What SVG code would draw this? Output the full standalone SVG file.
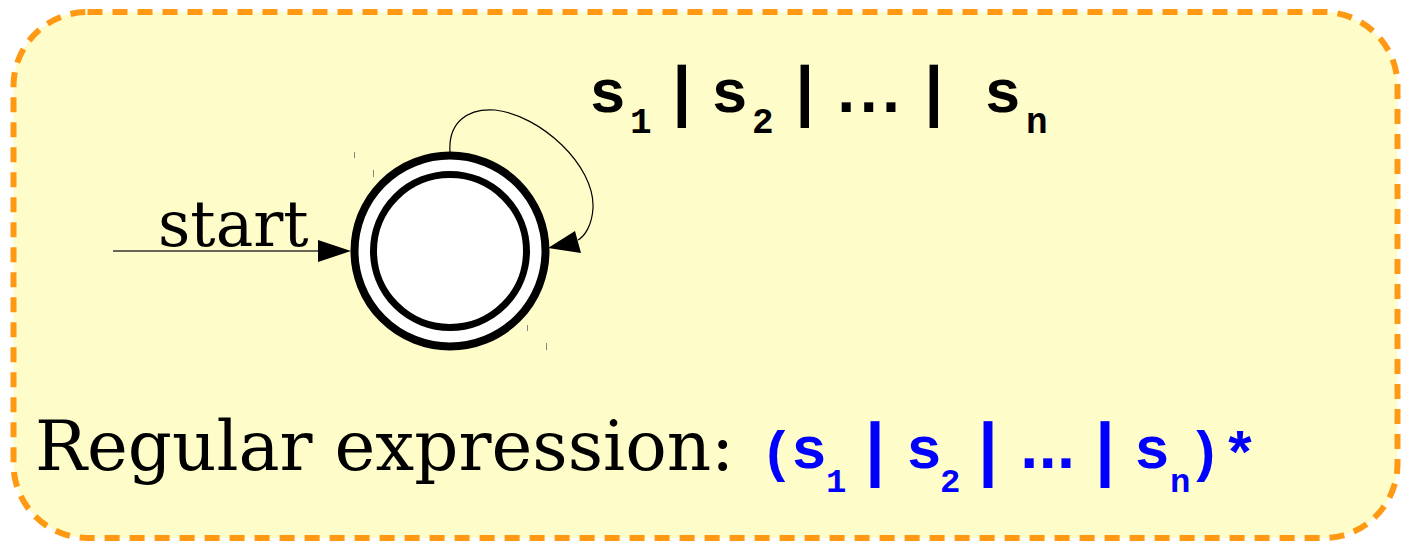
<svg xmlns="http://www.w3.org/2000/svg" width="1405" height="542" viewBox="0 0 1405 542">
<style>
.serif{font-family:"DejaVu Serif",serif;fill:#000}
.mono{font-family:"Liberation Mono","Courier New",monospace;font-weight:bold}
.blk{fill:#000}
.blu{fill:#0000ff}
.tick{stroke:#888;stroke-width:1}
</style>
<rect x="13.5" y="12" width="1384" height="526" rx="74" ry="74" fill="#fefcc8" stroke="#ff9914" stroke-width="6" stroke-dasharray="15 10"/>
<g id="connectors">
<line x1="113" y1="251" x2="320" y2="251" stroke="#333" stroke-width="1.3"/>
<polygon points="351,251 318,240 318,262" fill="#000"/>
<path d="M450,152 C448,122 468,108 495,110 C540,115 595,165 593,208 C592,225 585,236 578,240" fill="none" stroke="#000" stroke-width="1.2"/>
<polygon points="548,248 575,231 581,253" fill="#000"/>
</g>
<g id="state">
<circle cx="450" cy="251" r="95.5" fill="#fff" stroke="#000" stroke-width="8"/>
<circle cx="450" cy="251" r="76.5" fill="#fff" stroke="#000" stroke-width="7"/>
<line class="tick" x1="354.5" y1="152" x2="354.5" y2="158"/>
<line class="tick" x1="373.5" y1="170" x2="373.5" y2="177"/>
<line class="tick" x1="527.5" y1="325" x2="527.5" y2="331"/>
<line class="tick" x1="546.5" y1="343" x2="546.5" y2="350"/>
</g>
<g id="start-label">
<text class="serif" x="158" y="246" font-size="63">start</text>
</g>
<g id="loop-label" class="mono blk">
<text x="589" y="112" font-size="62">s</text>
<text x="630" y="133" font-size="36">1</text>
<text x="662" y="113" font-size="66">|</text>
<text x="711" y="112" font-size="62">s</text>
<text x="752" y="133" font-size="36">2</text>
<text x="785" y="113" font-size="66">|</text>
<text x="827" y="112" font-size="64" letter-spacing="-16">...</text>
<text x="914" y="113" font-size="66">|</text>
<text x="984" y="112" font-size="62">s</text>
<text x="1026" y="133" font-size="36">n</text>
</g>
<g id="regex">
<text class="serif" x="35" y="470" font-size="69">Regular expression:</text>
<g class="mono blu">
<text x="760" y="470" font-size="56">(</text>
<text x="791" y="468" font-size="60">s</text>
<text x="826" y="492" font-size="34">1</text>
<text x="854" y="472" font-size="70">|</text>
<text x="906" y="468" font-size="60">s</text>
<text x="940" y="492" font-size="34">2</text>
<text x="967" y="472" font-size="70">|</text>
<text x="1010" y="468" font-size="64" letter-spacing="-20">...</text>
<text x="1084" y="472" font-size="70">|</text>
<text x="1134" y="468" font-size="60">s</text>
<text x="1170" y="492" font-size="34">n</text>
<text x="1188" y="470" font-size="56">)</text>
<text x="1222" y="474" font-size="60">*</text>
</g>
</g>
</svg>
